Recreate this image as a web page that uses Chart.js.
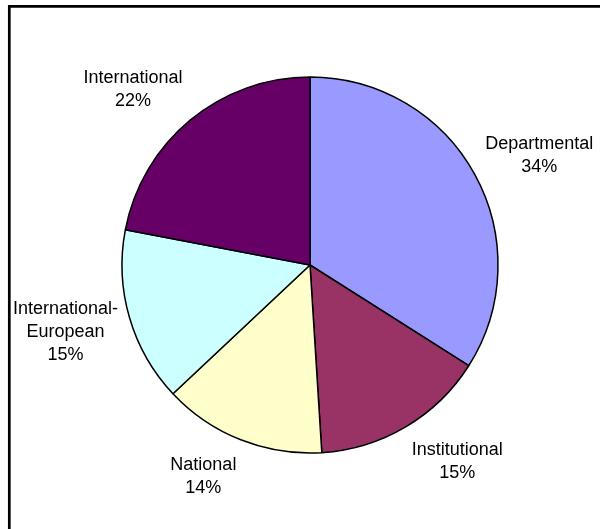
<!DOCTYPE html>
<html>
<head>
<meta charset="utf-8">
<script src="https://cdn.jsdelivr.net/npm/chart.js@4"></script>
<style>
    html, body { margin: 0; padding: 0; background: #fff; }
    #wrap { width: 600px; height: 529px; position: relative; }
</style>
</head>
<body>
<div id="wrap"><canvas id="funding-chart"></canvas></div>
<script>
// Share of funding by source (percent)
var sourceLabels = [
    "Departmental",
    "Institutional",
    "National",
    "International-European",
    "International",
];
var sourceShares = [34, 15, 14, 15, 22];
var sourceColors = ["#9999FF", "#993366", "#FFFFCC", "#CCFFFF", "#660066"];

// Label text is split onto lines the way it is printed beside each slice
function labelLines(name, value) {
    var lines = name.indexOf("-") > 0
        ? [name.slice(0, name.indexOf("-") + 1), name.slice(name.indexOf("-") + 1)]
        : [name];
    lines.push(value + "%");
    return lines;
}

// Thin black frame along the top and left edges
var framePlugin = {
    id: "frame",
    afterDraw: function (chart) {
        var ctx = chart.ctx;
        ctx.save();
        ctx.strokeStyle = "#000";
        ctx.lineWidth = 2.7;
        ctx.beginPath();
        ctx.moveTo(9.3, chart.height);
        ctx.lineTo(9.3, 6.3);
        ctx.lineTo(chart.width, 6.3);
        ctx.stroke();
        ctx.restore();
    },
};

// Category name and percentage outside each slice
var outsideLabels = {
    id: "outsideLabels",
    afterDatasetsDraw: function (chart) {
        var ctx = chart.ctx;
        var meta = chart.getDatasetMeta(0);
        var fontSize = 18;
        var lineHeight = 23;
        ctx.save();
        ctx.font = fontSize + "px 'Liberation Sans', Arial, sans-serif";
        ctx.fillStyle = "#000";
        ctx.textAlign = "center";
        ctx.textBaseline = "middle";
        meta.data.forEach(function (arc, i) {
            var p = arc.getProps(["x", "y", "startAngle", "endAngle", "outerRadius"], true);
            var mid = (p.startAngle + p.endAngle) / 2;
            var lines = labelLines(sourceLabels[i], sourceShares[i]);
            var w = Math.max.apply(null, lines.map(function (l) { return ctx.measureText(l).width; }));
            var h = lines.length * lineHeight;
            var cx = p.x + Math.cos(mid) * (p.outerRadius + 12) + Math.sign(Math.cos(mid)) * w / 2;
            var cy = p.y + Math.sin(mid) * (p.outerRadius + 17) + Math.sin(mid) * h / 2;
            lines.forEach(function (line, k) {
                ctx.fillText(line, cx, cy - h / 2 + lineHeight * (k + 0.5));
            });
        });
        ctx.restore();
    },
};

var fundingChart = new Chart(document.getElementById("funding-chart"), {
    type: "pie",
    data: {
        labels: sourceLabels,
        datasets: [
            {
                data: sourceShares,
                backgroundColor: sourceColors,
                borderColor: "#000",
                borderWidth: 1.5,
                radius: 188,
            },
        ],
    },
    options: {
        responsive: true,
        maintainAspectRatio: false,
        animation: false,
        layout: { padding: { left: 20, right: 0, top: 1, bottom: 0 } },
        plugins: {
            legend: { display: false },
            tooltip: { enabled: false },
        },
    },
    plugins: [framePlugin, outsideLabels],
});
</script>
</body>
</html>
